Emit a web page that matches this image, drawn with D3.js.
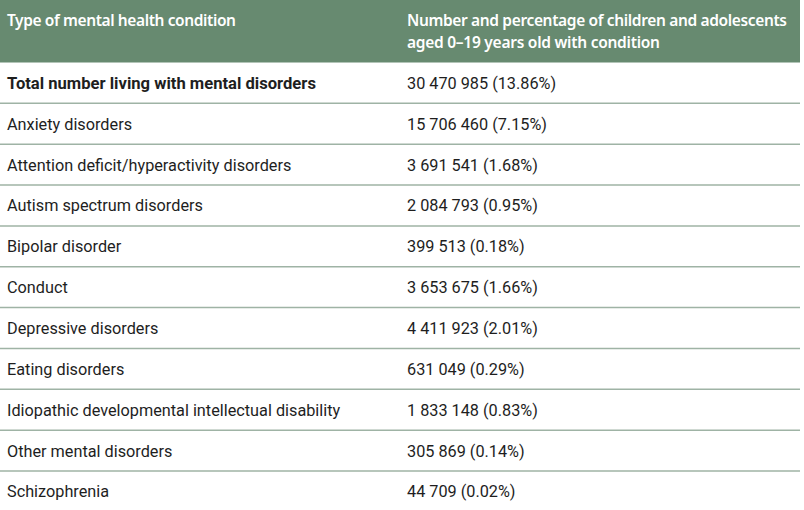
<!DOCTYPE html>
<html>
<head>
<meta charset="utf-8">
<script src="https://cdn.jsdelivr.net/npm/d3@7"></script>
<style>
  body { margin: 0; background: #fff; }
</style>
</head>
<body>
<div id="chart"></div>
<script>
var headers = ["Type of mental health condition",
  ["Number and percentage of children and adolescents", "aged 0\u201319 years old with condition"]];
var headerWidths = [229, [380, 253]];

var conditions = [
  "Total number living with mental disorders",
  "Anxiety disorders",
  "Attention deficit/hyperactivity disorders",
  "Autism spectrum disorders",
  "Bipolar disorder",
  "Conduct",
  "Depressive disorders",
  "Eating disorders",
  "Idiopathic developmental intellectual disability",
  "Other mental disorders",
  "Schizophrenia"
];

var counts = ["30 470 985", "15 706 460", "3 691 541", "2 084 793", "399 513",
  "3 653 675", "4 411 923", "631 049", "1 833 148", "305 869", "44 709"];

var shares = ["13.86%", "7.15%", "1.68%", "0.95%", "0.18%",
  "1.66%", "2.01%", "0.29%", "0.83%", "0.14%", "0.02%"];

(function () {
  var width = 804,
      height = 510,
      tableW = 800,
      headH = 62.5,
      col2 = 407;

  var svg = d3.select("#chart")
    .append("svg")
    .attr("width", width)
    .attr("height", height);

  // header
  svg.append("rect")
    .attr("x", 0).attr("y", 0)
    .attr("width", tableW).attr("height", headH)
    .attr("fill", "#678a70");

  var head = svg.append("g")
    .attr("font-family", "'Noto Sans', sans-serif")
    .attr("font-size", 15.5)
    .attr("font-weight", 600)
    .attr("fill", "#fff");

  head.append("text")
    .attr("x", 7).attr("y", 26)
    .attr("textLength", headerWidths[0])
    .text(headers[0]);

  head.selectAll(".h2")
    .data(headers[1])
    .enter().append("text")
    .attr("class", "h2")
    .attr("x", col2)
    .attr("y", function (d, i) { return 26 + i * 21.5; })
    .attr("textLength", function (d, i) { return headerWidths[1][i]; })
    .text(function (d) { return d; });

  var y = d3.scaleBand()
    .domain(d3.range(conditions.length))
    .range([headH, headH + 40.85 * conditions.length]);

  var rows = svg.selectAll(".row")
    .data(conditions)
    .enter().append("g")
    .attr("class", "row")
    .attr("transform", function (d, i) { return "translate(0," + y(i) + ")"; });

  rows.filter(function (d, i) { return i < conditions.length - 1; })
    .append("line")
    .attr("x1", 0).attr("x2", tableW)
    .attr("y1", y.bandwidth()).attr("y2", y.bandwidth())
    .attr("stroke", "#9fb3a5")
    .attr("stroke-width", 1.5);

  rows.append("text")
    .attr("x", 7)
    .attr("y", y.bandwidth() / 2 + 6)
    .attr("font-family", "Roboto, sans-serif")
    .attr("font-size", function (d, i) { return i === 0 ? 16.6 : 16.25; })
    .attr("font-weight", function (d, i) { return i === 0 ? 700 : 400; })
    .attr("fill", "#1e1e1e")
    .text(function (d) { return d; });

  rows.append("text")
    .attr("x", col2)
    .attr("y", y.bandwidth() / 2 + 6)
    .attr("font-family", "Roboto, sans-serif")
    .attr("font-size", 16.25)
    .attr("fill", "#1e1e1e")
    .text(function (d, i) { return counts[i] + " (" + shares[i] + ")"; });
})();
</script>
</body>
</html>
